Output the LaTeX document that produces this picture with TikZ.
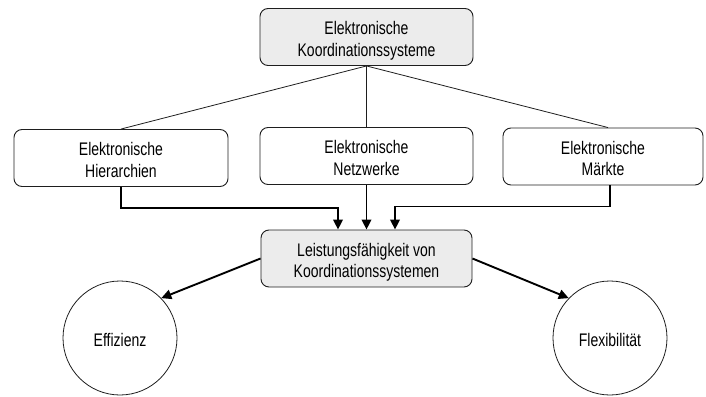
\documentclass[tikz,border=0pt]{standalone}
\usepackage{fontspec}
\usepackage{graphicx}
\setmainfont{Liberation Sans}
\usetikzlibrary{arrows.meta,calc}
\definecolor{boxfill}{RGB}{236,236,236}
\definecolor{edge}{RGB}{30,30,30}
% tall, narrow label: lines stacked and stretched vertically
\newcommand\lbl[1]{\scalebox{1}[1.3]{\begin{tabular}[t]{@{}c@{}}#1\end{tabular}}}
\tikzset{
  cbox/.style={text height=10pt, text depth=14.7pt, draw=edge, line width=0.9pt,
    rounded corners=8pt, align=center, minimum height=57pt, inner sep=0pt},
  shaded/.style={fill=boxfill},
  thin link/.style={draw=edge, line width=0.8pt},
  flow/.style={draw=black, line width=1.9pt, -{Triangle[length=10pt,width=9.5pt]}},
  goal/.style={text height=17pt, text depth=0pt, circle, draw=edge, line width=0.8pt,
    minimum size=114pt, inner sep=0pt}
}
\begin{document}
\begin{tikzpicture}[x=1pt, y=-1pt, font=\fontsize{14}{16.7}\selectfont]
\useasboundingbox (0,0) rectangle (706,396);

% top level
\node[cbox, shaded, minimum width=213pt] (eks) at (366.5,37)
  {\lbl{Elektronische\\Koordinationssysteme}};

% three forms
\node[cbox, minimum width=214pt] (hier) at (121,158) {\lbl{Elektronische\\Hierarchien}};
\node[cbox, minimum width=213pt] (netz) at (366.5,156) {\lbl{Elektronische\\Netzwerke}};
\node[cbox, minimum width=200pt] (mark) at (603,156.5) {\lbl{Elektronische\\Märkte}};

% performance
\node[cbox, shaded, minimum width=211pt] (leis) at (366.5,258.5)
  {\lbl{Leistungsfähigkeit von\\Koordinationssystemen}};

% criteria
\node[goal] (eff) at (120,338) {\lbl{Effizienz}};
\node[goal] (flex) at (610,338) {\lbl{Flexibilität}};

% tree lines from the top box
\draw[thin link] (eks.south) -- (hier.north);
\draw[thin link] (eks.south) -- (netz.north);
\draw[thin link] (eks.south) -- ($(mark.north)+(5,0)$);

% convergence onto the performance box
\draw[flow] (hier.south) -- ++(0,21) -| ($(leis.north)+(-28.5,0)$);
\draw[flow] (netz.south) -- (netz.south |- leis.north);
\draw[flow] ($(mark.south)+(7,0)$) -- ++(0,21) -| ($(leis.north)+(28.5,0)$);

% performance criteria
\draw[flow] (leis.west) -- (eff.44);
\draw[flow] (leis.east) -- (flex.136);
\end{tikzpicture}
\end{document}
